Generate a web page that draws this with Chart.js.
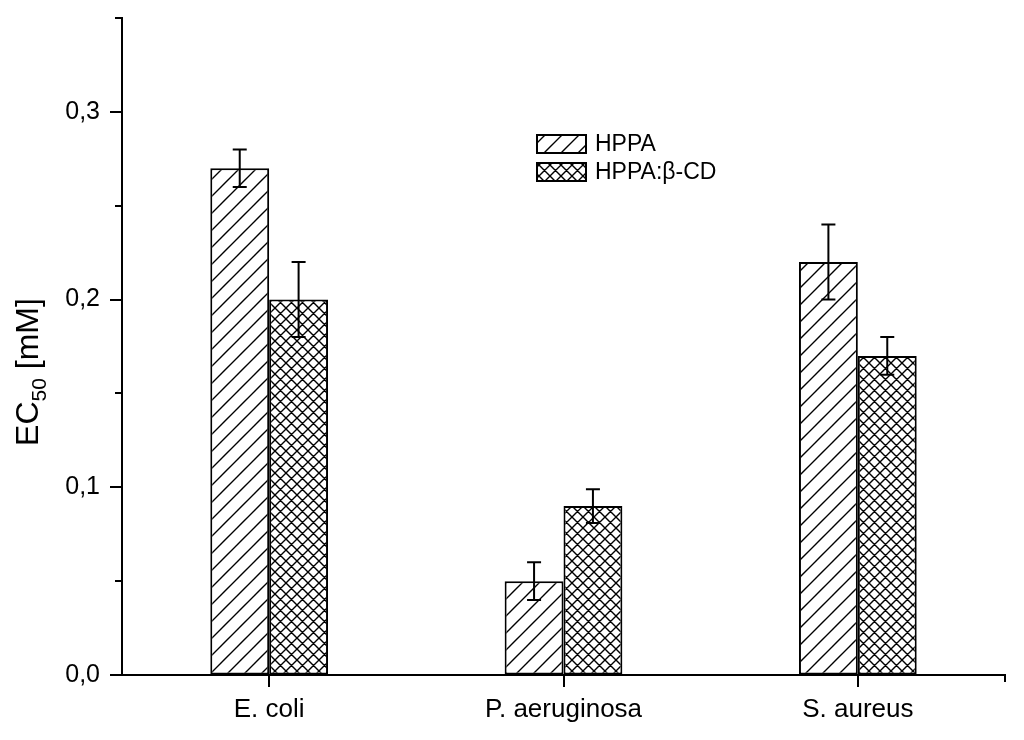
<!DOCTYPE html>
<html>
<head>
<meta charset="utf-8">
<script src="https://cdn.jsdelivr.net/npm/chart.js@4.4.1/dist/chart.umd.min.js"></script>
<style>
  html, body { margin: 0; padding: 0; background: #fff; }
  canvas { display: block; }
</style>
</head>
<body>
<canvas id="ecChart" width="1024" height="740"></canvas>
<script>
// Datos
const categories = ['E. coli', 'P. aeruginosa', 'S. aureus'];
const seriesNames = ['HPPA', 'HPPA:\u03B2-CD'];
const hppa = [0.27, 0.05, 0.22];
const hppaErr = [0.01, 0.01, 0.02];
const hppaCd = [0.20, 0.09, 0.17];
const hppaCdErr = [0.02, 0.009, 0.01];
const yMax = 0.35;
const yStep = 0.05;

const FONT = '"Liberation Sans", Arial, sans-serif';

// Tramas de relleno (rayado y cuadriculado)
function makePattern(size, cross) {
  const c = document.createElement('canvas');
  c.width = size;
  c.height = size;
  const g = c.getContext('2d');
  g.fillStyle = '#fff';
  g.fillRect(0, 0, size, size);
  g.strokeStyle = '#000';
  g.lineWidth = 1.4;
  g.beginPath();
  g.moveTo(-2, size + 2); g.lineTo(size + 2, -2);
  g.moveTo(-2, 2); g.lineTo(2, -2);
  g.moveTo(size - 2, size + 2); g.lineTo(size + 2, size - 2);
  if (cross) {
    g.moveTo(-2, -2); g.lineTo(size + 2, size + 2);
    g.moveTo(size - 2, -2); g.lineTo(size + 2, 2);
    g.moveTo(-2, size - 2); g.lineTo(2, size + 2);
  }
  g.stroke();
  return g.createPattern(c, 'repeat');
}

const ctx = document.getElementById('ecChart').getContext('2d');
const hatch = makePattern(17, false);
const crossHatch = makePattern(11, true);

// Barras de error
const errorBars = {
  id: 'errorBars',
  afterDatasetsDraw(chart) {
    const g = chart.ctx;
    const y = chart.scales.y;
    const errs = [hppaErr, hppaCdErr];
    g.save();
    g.strokeStyle = '#000';
    g.lineWidth = 2;
    chart.data.datasets.forEach((ds, i) => {
      const meta = chart.getDatasetMeta(i);
      meta.data.forEach((bar, j) => {
        const v = ds.data[j];
        const e = errs[i][j];
        const top = y.getPixelForValue(v + e);
        const bot = y.getPixelForValue(v - e);
        g.beginPath();
        g.moveTo(bar.x, top); g.lineTo(bar.x, bot);
        g.moveTo(bar.x - 7, top); g.lineTo(bar.x + 7, top);
        g.moveTo(bar.x - 7, bot); g.lineTo(bar.x + 7, bot);
        g.stroke();
      });
    });
    g.restore();
  }
};

// Marcas de los ejes, leyenda y título del eje Y
const decorations = {
  id: 'decorations',
  afterDraw(chart) {
    const g = chart.ctx;
    const y = chart.scales.y;
    const x = chart.scales.x;
    const area = chart.chartArea;
    g.save();
    g.strokeStyle = '#000';
    g.lineWidth = 2;
    g.beginPath();
    y.ticks.forEach(t => {
      const py = Math.round(y.getPixelForValue(t.value));
      const major = Math.round(t.value * 100) % 10 === 0;
      const len = major ? 12 : 7;
      g.moveTo(area.left - len, py);
      g.lineTo(area.left, py);
    });
    x.ticks.forEach((t, i) => {
      const px = Math.round(x.getPixelForValue(i));
      g.moveTo(px, area.bottom);
      g.lineTo(px, area.bottom + 12);
    });
    g.moveTo(area.right, area.bottom);
    g.lineTo(area.right, area.bottom + 7);
    g.stroke();

    // leyenda
    const fills = [hatch, crossHatch];
    g.font = '23px ' + FONT;
    g.textBaseline = 'middle';
    chart.data.datasets.forEach((ds, i) => {
      const cy = 144 + i * 28;
      g.fillStyle = fills[i];
      g.fillRect(537, cy - 9, 49, 18);
      g.lineWidth = 2;
      g.strokeRect(537, cy - 9, 49, 18);
      g.fillStyle = '#000';
      g.fillText(ds.label, 595, cy + 1);
    });

    // título del eje Y: EC50 [mM]
    const big = '32px ' + FONT;
    const small = '21px ' + FONT;
    g.font = big;
    const w1 = g.measureText('EC').width;
    const w3 = g.measureText(' [mM]').width;
    g.font = small;
    const w2 = g.measureText('50').width;
    const total = w1 + w2 + w3;
    g.translate(38, 372);
    g.rotate(-Math.PI / 2);
    g.textBaseline = 'alphabetic';
    g.textAlign = 'left';
    let cx = -total / 2;
    g.font = big;
    g.fillText('EC', cx, 0);
    cx += w1;
    g.font = small;
    g.fillText('50', cx, 8);
    cx += w2;
    g.font = big;
    g.fillText(' [mM]', cx, 0);
    g.restore();
  }
};

new Chart(ctx, {
  type: 'bar',
  data: {
    labels: categories,
    datasets: [
      {
        label: seriesNames[0],
        data: hppa,
        backgroundColor: hatch,
        borderColor: '#000',
        borderWidth: 2,
        borderSkipped: false
      },
      {
        label: seriesNames[1],
        data: hppaCd,
        backgroundColor: crossHatch,
        borderColor: '#000',
        borderWidth: 2,
        borderSkipped: false
      }
    ]
  },
  options: {
    responsive: false,
    animation: false,
    layout: { padding: { left: 0, top: 18, right: 19, bottom: 0 } },
    datasets: { bar: { categoryPercentage: 0.4, barPercentage: 1.0 } },
    plugins: {
      legend: { display: false },
      tooltip: { enabled: false }
    },
    scales: {
      x: {
        grid: { display: true, drawOnChartArea: false, drawTicks: false },
        border: { display: true, color: '#000', width: 2 },
        ticks: { color: '#000', font: { family: FONT, size: 26 }, padding: 19 },
        afterFit(s) {
          s.height = 65;
          s.paddingLeft = 0;
          s.paddingRight = 0;
        }
      },
      y: {
        min: 0,
        max: yMax,
        grid: { display: true, drawOnChartArea: false, drawTicks: false },
        border: { display: true, color: '#000', width: 2 },
        ticks: {
          stepSize: yStep,
          color: '#000',
          font: { family: FONT, size: 25 },
          padding: 22,
          callback: v => (Math.round(v * 100) % 10 === 0 ? v.toFixed(1).replace('.', ',') : '')
        },
        afterFit(s) {
          s.width = 122;
          s.paddingTop = 0;
          s.paddingBottom = 0;
        }
      }
    }
  },
  plugins: [errorBars, decorations]
});
</script>
</body>
</html>
